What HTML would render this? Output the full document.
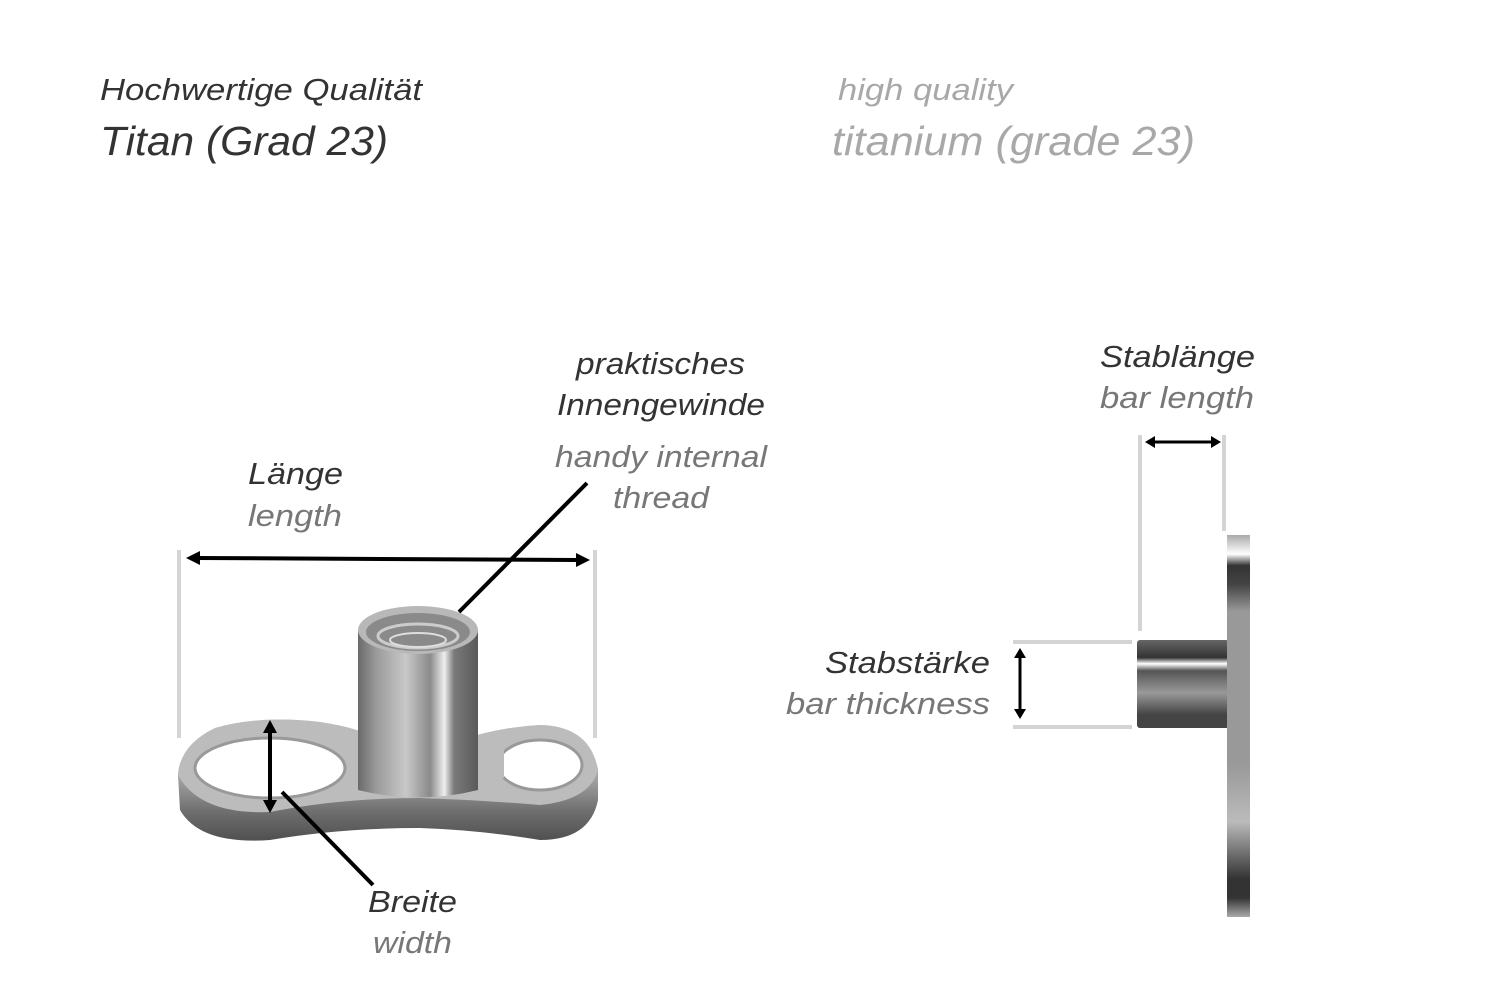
<!DOCTYPE html>
<html><head><meta charset="utf-8"><style>
html,body{margin:0;padding:0;background:#fff;}
svg{display:block}
text{font-family:"Liberation Sans",sans-serif;font-style:italic;}
</style></head><body>
<svg width="1500" height="1001" viewBox="0 0 1500 1001" xmlns="http://www.w3.org/2000/svg">
<defs>
<linearGradient id="cyl" x1="0" x2="1" y1="0" y2="0">
<stop offset="0" stop-color="#6a6a6a"/><stop offset="0.15" stop-color="#9a9a9a"/><stop offset="0.4" stop-color="#c8c8c8"/><stop offset="0.6" stop-color="#8a8a8a"/><stop offset="0.72" stop-color="#eeeeee"/><stop offset="0.8" stop-color="#7a7a7a"/><stop offset="1" stop-color="#5a5a5a"/>
</linearGradient>
<linearGradient id="plate" x1="0" x2="0" y1="0" y2="1">
<stop offset="0" stop-color="#d0d0d0"/><stop offset="0.5" stop-color="#a0a0a0"/><stop offset="0.75" stop-color="#707070"/><stop offset="1" stop-color="#505050"/>
</linearGradient>
<linearGradient id="vplate" x1="0" x2="0" y1="0" y2="1">
<stop offset="0" stop-color="#aaa"/><stop offset="0.05" stop-color="#fff"/><stop offset="0.08" stop-color="#333"/><stop offset="0.13" stop-color="#444"/><stop offset="0.2" stop-color="#999"/><stop offset="0.6" stop-color="#999"/><stop offset="0.75" stop-color="#bbb"/><stop offset="0.9" stop-color="#333"/><stop offset="0.95" stop-color="#333"/><stop offset="1" stop-color="#aaa"/>
</linearGradient>
<linearGradient id="bar" x1="0" x2="0" y1="0" y2="1">
<stop offset="0" stop-color="#666"/><stop offset="0.2" stop-color="#333"/><stop offset="0.27" stop-color="#fff"/><stop offset="0.35" stop-color="#555"/><stop offset="0.6" stop-color="#999"/><stop offset="0.85" stop-color="#444"/><stop offset="1" stop-color="#444"/>
</linearGradient>
</defs>

<!-- header -->
<text x="100" y="100" font-size="31" fill="#333" textLength="322" lengthAdjust="spacingAndGlyphs">Hochwertige Qualität</text>
<text x="100" y="155" font-size="41" fill="#333" textLength="288" lengthAdjust="spacingAndGlyphs">Titan (Grad 23)</text>
<text x="838" y="100" font-size="31" fill="#a8a8a8" textLength="175" lengthAdjust="spacingAndGlyphs">high quality</text>
<text x="832" y="155" font-size="41" fill="#a8a8a8" textLength="363" lengthAdjust="spacingAndGlyphs">titanium (grade 23)</text>

<!-- left labels -->
<text x="248" y="484" font-size="31" fill="#333" textLength="95" lengthAdjust="spacingAndGlyphs">Länge</text>
<text x="248" y="526" font-size="31" fill="#777" textLength="94" lengthAdjust="spacingAndGlyphs">length</text>
<text x="576" y="374" font-size="31" fill="#333" textLength="169" lengthAdjust="spacingAndGlyphs">praktisches</text>
<text x="557" y="415" font-size="31" fill="#333" textLength="208" lengthAdjust="spacingAndGlyphs">Innengewinde</text>
<text x="555" y="467" font-size="31" fill="#777" textLength="212" lengthAdjust="spacingAndGlyphs">handy internal</text>
<text x="613" y="508" font-size="31" fill="#777" textLength="96" lengthAdjust="spacingAndGlyphs">thread</text>
<text x="368" y="912" font-size="31" fill="#333" textLength="89" lengthAdjust="spacingAndGlyphs">Breite</text>
<text x="373" y="953" font-size="31" fill="#777" textLength="79" lengthAdjust="spacingAndGlyphs">width</text>

<!-- right labels -->
<text x="1100" y="367" font-size="31" fill="#333" textLength="155" lengthAdjust="spacingAndGlyphs">Stablänge</text>
<text x="1100" y="408" font-size="31" fill="#777" textLength="154" lengthAdjust="spacingAndGlyphs">bar length</text>
<text x="825" y="673" font-size="31" fill="#333" textLength="165" lengthAdjust="spacingAndGlyphs">Stabstärke</text>
<text x="786" y="714" font-size="31" fill="#777" textLength="204" lengthAdjust="spacingAndGlyphs">bar thickness</text>

<!-- left guide lines -->
<rect x="177" y="550" width="4" height="188" fill="#d4d4d4"/>
<rect x="593" y="550" width="4" height="188" fill="#d4d4d4"/>

<!-- dermal anchor base plate -->
<path d="M178,775 Q180,745 215,728 Q260,715 320,722 Q360,728 380,740 L460,740 Q500,727 540,725 Q590,726 598,770 L598,800 Q590,840 540,840 Q480,830 420,828 Q340,828 270,840 Q200,845 180,810 Z" fill="url(#plate)"/>
<path d="M178,775 Q180,745 215,728 Q260,715 320,722 Q360,728 380,740 L460,740 Q500,727 540,725 Q590,726 598,770 Q590,800 540,805 Q480,800 420,798 Q340,798 270,812 Q200,815 178,775 Z" fill="#bcbcbc"/>
<ellipse cx="270" cy="768" rx="75" ry="30" fill="#fff" stroke="#999" stroke-width="3"/>
<ellipse cx="540" cy="765" rx="42" ry="25" fill="#fff" stroke="#999" stroke-width="3"/>
<rect x="490" y="738" width="14" height="40" fill="#bcbcbc"/>

<!-- cylinder -->
<path d="M358,630 L358,790 Q418,805 478,790 L478,630 Z" fill="url(#cyl)"/>
<ellipse cx="418" cy="630" rx="60" ry="24" fill="#b8b8b8"/>
<ellipse cx="418" cy="632" rx="52" ry="19" fill="#8a8a8a"/>
<ellipse cx="418" cy="636" rx="40" ry="12" fill="none" stroke="#ccc" stroke-width="3"/>
<ellipse cx="418" cy="640" rx="28" ry="7" fill="none" stroke="#ddd" stroke-width="2"/>

<!-- Länge arrow -->
<line x1="196" y1="558" x2="578" y2="560" stroke="#000" stroke-width="4"/>
<polygon points="186,558 200,551 200,565" fill="#000"/>
<polygon points="590,560 576,553 576,567" fill="#000"/>

<!-- thread pointer -->
<line x1="587" y1="483" x2="459" y2="612" stroke="#000" stroke-width="4"/>

<!-- Breite arrow -->
<line x1="270" y1="730" x2="270" y2="802" stroke="#000" stroke-width="4"/>
<polygon points="270,720 263,733 277,733" fill="#000"/>
<polygon points="270,813 263,800 277,800" fill="#000"/>
<line x1="282" y1="792" x2="373" y2="885" stroke="#000" stroke-width="4"/>

<!-- right side view -->
<rect x="1138" y="435" width="4" height="196" fill="#d4d4d4"/>
<rect x="1222" y="435" width="4" height="96" fill="#d4d4d4"/>
<line x1="1153" y1="442" x2="1212" y2="442" stroke="#000" stroke-width="3"/>
<polygon points="1145,442 1155,436 1155,448" fill="#000"/>
<polygon points="1221,442 1211,436 1211,448" fill="#000"/>

<rect x="1013" y="640" width="119" height="4" fill="#d4d4d4"/>
<rect x="1013" y="725" width="119" height="4" fill="#d4d4d4"/>
<line x1="1020" y1="656" x2="1020" y2="710" stroke="#000" stroke-width="3"/>
<polygon points="1020,648 1014,658 1026,658" fill="#000"/>
<polygon points="1020,719 1014,709 1026,709" fill="#000"/>

<rect x="1137" y="640" width="92" height="88" rx="3" fill="url(#bar)"/>
<rect x="1227" y="535" width="23" height="382" fill="url(#vplate)"/>
</svg>
</body></html>
